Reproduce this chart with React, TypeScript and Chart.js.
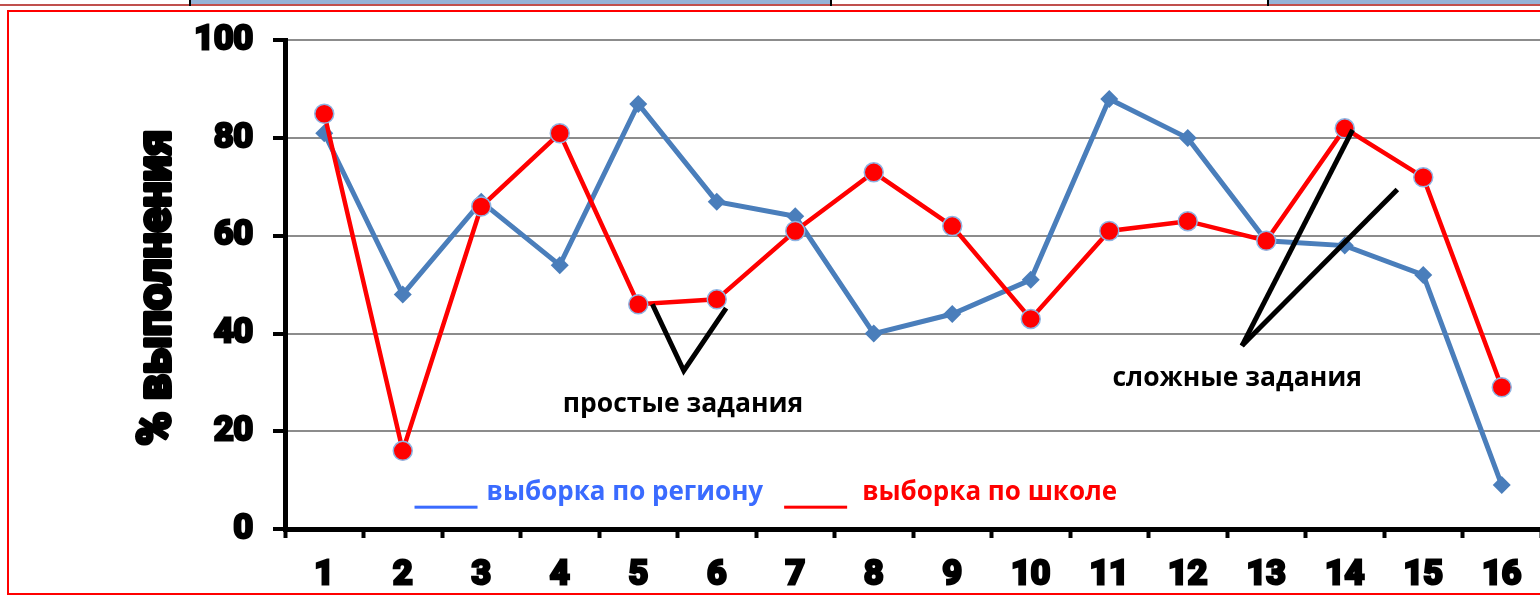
import React, { useEffect, useRef } from "react";
import { Chart, registerables } from "chart.js";

Chart.register(...registerables);

const categories = ["1", "2", "3", "4", "5", "6", "7", "8", "9", "10", "11", "12", "13", "14", "15", "16"];
const regionValues = [81, 48, 67, 54, 87, 67, 64, 40, 44, 51, 88, 80, 59, 58, 52, 9];
const schoolValues = [85, 16, 66, 81, 46, 47, 61, 73, 62, 43, 61, 63, 59, 82, 72, 29];
const yTicks = [0, 20, 40, 60, 80, 100];

const yTitle = "% выполнения";
const regionLabel = "выборка по региону";
const schoolLabel = "выборка по школе";
const simpleLabel = "простые задания";
const complexLabel = "сложные задания";

// annotation geometry in data space: [category index, value]
const simpleArrow: [number, number][] = [[4.18, 46], [4.58, 32.4], [5.12, 45.2]];
const complexArrowA: [number, number][] = [[11.69, 37.5], [13.1, 81.7]];
const complexArrowB: [number, number][] = [[11.69, 37.5], [13.67, 69.5]];
const simpleLabelPos: [number, number] = [4.57, 23.9];
const complexLabelPos: [number, number] = [11.63, 29.2];
const legendPos: [number, number] = [1.15, 6.0];

const BLUE = "#4A7EBB";
const RED = "#FF0000";
const LEGEND_BLUE = "#3A6BFF";

const overlayPlugin = {
  id: "overlay",
  afterDatasetsDraw(chart: any) {
    const ctx = chart.ctx;
    const xs = chart.scales.x;
    const ys = chart.scales.y;
    const px = (p: [number, number]) => [xs.getPixelForValue(p[0]), ys.getPixelForValue(p[1])];
    ctx.save();
    // arrows
    ctx.strokeStyle = "#000";
    ctx.lineWidth = 5;
    ctx.lineJoin = "miter";
    ctx.lineCap = "butt";
    const poly = (pts: [number, number][]) => {
      ctx.beginPath();
      pts.forEach((p, i) => {
        const [x, y] = px(p);
        if (i === 0) ctx.moveTo(x, y);
        else ctx.lineTo(x, y);
      });
      ctx.stroke();
    };
    poly(simpleArrow);
    poly(complexArrowA);
    poly(complexArrowB);

    ctx.font = "bold 26.5px 'Open Sans'";
    ctx.textBaseline = "alphabetic";
    ctx.fillStyle = "#000";
    ctx.textAlign = "center";
    let [sx, sy] = px(simpleLabelPos);
    ctx.fillText(simpleLabel, sx, sy);
    [sx, sy] = px(complexLabelPos);
    ctx.fillText(complexLabel, sx, sy);

    // legend
    ctx.font = "bold 26px 'Open Sans'";
    ctx.textAlign = "left";
    let [lx, ly] = px(legendPos);
    ctx.fillStyle = LEGEND_BLUE;
    ctx.fillRect(lx, ly + 6, 63, 3);
    lx += 72;
    ctx.fillText(regionLabel, lx, ly);
    lx += ctx.measureText(regionLabel).width + 21;
    ctx.fillStyle = RED;
    ctx.fillRect(lx, ly + 6, 63, 3);
    lx += 78;
    ctx.fillText(schoolLabel, lx, ly);

    // y title
    const area = chart.chartArea;
    ctx.translate(area.left - 127, (area.top + area.bottom) / 2 + 3);
    ctx.rotate(-Math.PI / 2);
    ctx.font = "bold 46px Roboto";
    ctx.textAlign = "center";
    ctx.textBaseline = "middle";
    ctx.fillStyle = "#000";
    ctx.strokeStyle = "#000";
    ctx.lineWidth = 4;
    ctx.lineJoin = "round";
    ctx.strokeText(yTitle, 0, 0);
    ctx.fillText(yTitle, 0, 0);
    ctx.restore();
  },
};

export default function App() {
  const canvasRef = useRef<HTMLCanvasElement | null>(null);

  useEffect(() => {
    if (!canvasRef.current) return;
    const tickFont = { family: "Roboto", size: 34, weight: "bold" as const };
    const chart = new Chart(canvasRef.current, {
      type: "line",
      data: {
        labels: categories,
        datasets: [
          {
            label: schoolLabel,
            data: schoolValues,
            borderColor: RED,
            backgroundColor: RED,
            borderWidth: 4.5,
            pointStyle: "circle",
            pointRadius: 9.5,
            pointBackgroundColor: RED,
            pointBorderColor: "#8EB4E3",
            pointBorderWidth: 1.5,
            tension: 0,
          },
          {
            label: regionLabel,
            data: regionValues,
            borderColor: BLUE,
            backgroundColor: BLUE,
            borderWidth: 5,
            pointStyle: "rectRot",
            pointRadius: 9,
            pointBackgroundColor: BLUE,
            pointBorderColor: BLUE,
            pointBorderWidth: 0,
            tension: 0,
          },
        ],
      },
      options: {
        responsive: false,
        animation: false,
        events: [],
        layout: { padding: { top: 38, right: 19, bottom: 0, left: 0 } },
        plugins: {
          legend: { display: false },
          tooltip: { enabled: false },
          title: { display: false },
        },
        scales: {
          x: {
            type: "category",
            offset: true,
            grid: {
              offset: true,
              drawOnChartArea: false,
              drawTicks: true,
              tickLength: 9,
              tickWidth: 4,
              tickColor: "#000",
            },
            border: { display: true, color: "#000", width: 5 },
            ticks: {
              color: "#000",
              font: tickFont,
              padding: 17,
              textStrokeColor: "#000",
              textStrokeWidth: 3,
              maxRotation: 0,
              autoSkip: false,
            },
            afterFit: (scale: any) => {
              scale.height = 66;
            },
          },
          y: {
            min: 0,
            max: 100,
            afterBuildTicks: (scale: any) => {
              scale.ticks = yTicks.map((v) => ({ value: v }));
            },
            grid: {
              color: "#8C8C8C",
              lineWidth: 2,
              drawTicks: true,
              tickLength: 12,
              tickWidth: 4,
              tickColor: "#000",
            },
            border: { display: true, color: "#000", width: 5 },
            ticks: {
              color: "#000",
              font: tickFont,
              padding: 20,
              textStrokeColor: "#000",
              textStrokeWidth: 3,
            },
            afterFit: (scale: any) => {
              scale.width = 285;
            },
          },
        },
      },
      plugins: [overlayPlugin],
    });
    return () => chart.destroy();
  }, []);

  return (
    <div style={{ position: "fixed", left: 0, top: 0, width: 1540, height: 595, overflow: "hidden", background: "#fff" }}>
      <div style={{ position: "absolute", left: 190, top: 0, width: 641, height: 4, background: "#95B3D7" }} />
      <div style={{ position: "absolute", left: 1268, top: 0, width: 272, height: 4, background: "#95B3D7" }} />
      <div style={{ position: "absolute", left: 0, top: 4, width: 1540, height: 2, background: "#C0504D" }} />
      <div style={{ position: "absolute", left: 189, top: 0, width: 2, height: 6, background: "#000" }} />
      <div style={{ position: "absolute", left: 830, top: 0, width: 2, height: 6, background: "#000" }} />
      <div style={{ position: "absolute", left: 1267, top: 0, width: 2, height: 6, background: "#000" }} />
      <div
        style={{
          position: "absolute",
          left: 7,
          top: 10,
          width: 1560,
          height: 585,
          borderLeft: "2px solid #FF0000",
          borderTop: "2px solid #FF0000",
          borderBottom: "2px solid #FF0000",
          boxSizing: "border-box",
        }}
      />
      <canvas ref={canvasRef} width={1560} height={595} style={{ position: "absolute", left: 0, top: 0, width: 1560, height: 595 }} />
    </div>
  );
}
